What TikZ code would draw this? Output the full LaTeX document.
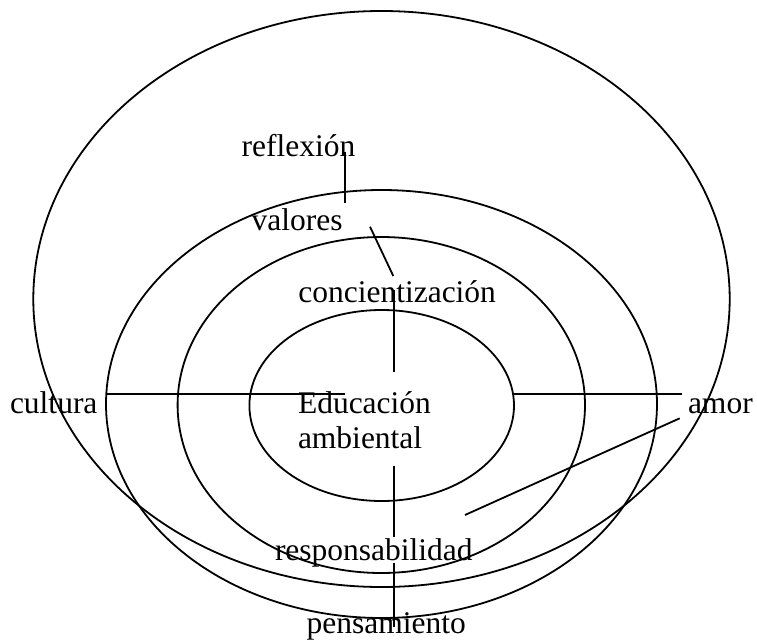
\documentclass[tikz,border=0pt]{standalone}
\usepackage{fontspec}
\setmainfont{Liberation Serif}
\usetikzlibrary{shapes.geometric}
\begin{document}
\begin{tikzpicture}[x=1pt,y=-1pt,line width=1.8pt,
  ring/.style={draw,ellipse,inner sep=0pt,outer sep=0pt},
  lbl/.style={anchor=base west,inner sep=0pt,outer sep=0pt,font=\fontsize{31.5}{35}\selectfont},
  link/.style={draw,line width=1.8pt}]
\useasboundingbox (0,0) rectangle (757,640);
% rings
\node[ring,minimum width=696.4pt,minimum height=576pt] (outer) at (381.5,299) {};
\node[ring,minimum width=551pt,minimum height=428pt] (second) at (381.5,404) {};
\node[ring,minimum width=407.4pt,minimum height=336pt] (third) at (381.3,405) {};
\node[ring,minimum width=264.6pt,minimum height=191pt] (inner) at (381.7,405.5) {};
% labels
\node[lbl] (reflexion) at (241.7,156) {reflexión};
\node[lbl] (valores) at (251.7,230) {valores};
\node[lbl] (concient) at (298.3,302.7) {concientización};
\node[lbl] (cultura) at (10,413) {cultura};
\node[lbl] (edu1) at (298,413) {Educación};
\node[lbl] (edu2) at (298,448) {ambiental};
\node[lbl] (amor) at (688,413) {amor};
\node[lbl] (respons) at (275,560) {responsabilidad};
\node[lbl] (pensam) at (306.7,633) {pensamiento};
% connector ends
\coordinate (r1) at (345,151.7);
\coordinate (r2) at (345,203.3);
\coordinate (v1) at (370,226.7);
\coordinate (v2) at (393.3,276);
\coordinate (c1) at (394,290);
\coordinate (c2) at (394,371.7);
\coordinate (e1) at (394,466);
\coordinate (e2) at (394,537);
\coordinate (p1) at (394,563);
\coordinate (p2) at (394,627);
\coordinate (cu1) at (106,394);
\coordinate (cu2) at (345,394);
\coordinate (a1) at (514,394);
\coordinate (a2) at (682,394);
\coordinate (d1) at (679.7,418.3);
\coordinate (d2) at (465,515);
% connectors
\draw[link] (r1) -- (r2);
\draw[link] (v1) -- (v2);
\draw[link] (c1) -- (c2);
\draw[link] (e1) -- (e2);
\draw[link] (p1) -- (p2);
\draw[link] (cu1) -- (cu2);
\draw[link] (a1) -- (a2);
\draw[link] (d1) -- (d2);
\end{tikzpicture}
\end{document}
